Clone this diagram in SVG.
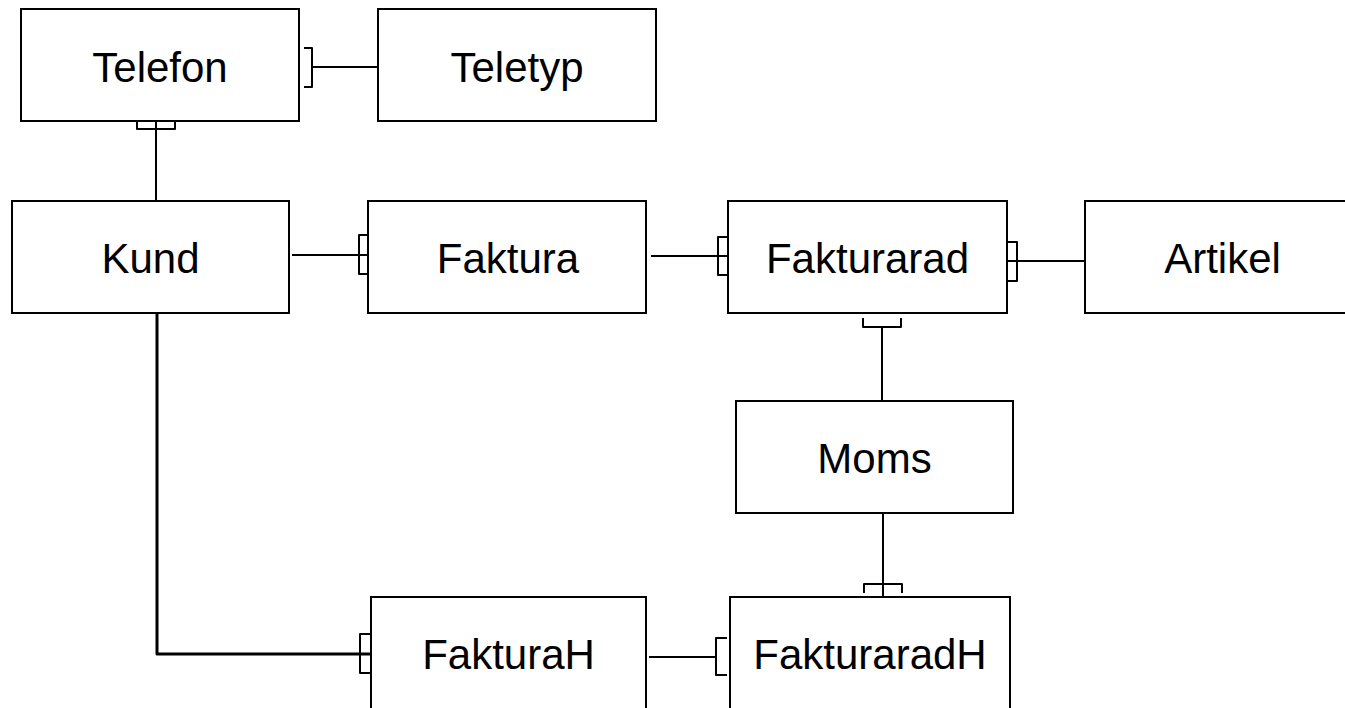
<svg xmlns="http://www.w3.org/2000/svg" width="1345" height="708" viewBox="0 0 1345 708">
<style>
.box{fill:#fff;stroke:#000;stroke-width:2}
.lbl{font-family:"Liberation Sans",Arial,sans-serif;font-size:42px;fill:#000;text-anchor:middle}
.c{fill:none;stroke:#000;stroke-width:2;stroke-linejoin:round}
.thick{stroke-width:3}
</style>
<rect width="1345" height="708" fill="#fff"/>
<g id="connectors">
  <!-- Telefon - Teletyp -->
  <path class="c" d="M312 67 H378"/>
  <path class="c" d="M304 48 H312 V87 H304"/>
  <!-- Telefon - Kund -->
  <path class="c" d="M156 121 V201"/>
  <path class="c" d="M137 121 V129 H175 V121"/>
  <!-- Kund - Faktura -->
  <path class="c" d="M292 255 H368"/>
  <path class="c" d="M367 235 H359 V274 H367"/>
  <!-- Faktura - Fakturarad -->
  <path class="c" d="M651 256 H728"/>
  <path class="c" d="M727 237 H718 V275 H727"/>
  <!-- Fakturarad - Artikel -->
  <path class="c" d="M1008 261 H1085"/>
  <path class="c" d="M1008 242 H1017 V281 H1008"/>
  <!-- Fakturarad - Moms -->
  <path class="c" d="M882 327 V401"/>
  <path class="c" d="M863 318 V327 H901 V318"/>
  <!-- Moms - FakturaradH -->
  <path class="c" d="M883 514 V597"/>
  <path class="c" d="M864 593 V584 H902 V593"/>
  <!-- Kund - FakturaH -->
  <path class="c thick" d="M157 313 V654 H371"/>
  <path class="c" d="M370 634 H360 V673 H370"/>
  <!-- FakturaH - FakturaradH -->
  <path class="c" d="M649 657 H716"/>
  <path class="c" d="M727 638 H716 V675 H727"/>
</g>
<g id="Telefon"><rect class="box" x="21" y="9" width="278" height="112"/><text class="lbl" x="160" y="82">Telefon</text></g>
<g id="Teletyp"><rect class="box" x="378" y="9" width="278" height="112"/><text class="lbl" x="517" y="82">Teletyp</text></g>
<g id="Kund"><rect class="box" x="12" y="201" width="277" height="112"/><text class="lbl" x="150.5" y="273">Kund</text></g>
<g id="Faktura"><rect class="box" x="368" y="201" width="278" height="112"/><text class="lbl" x="508" y="273">Faktura</text></g>
<g id="Fakturarad"><rect class="box" x="728" y="201" width="279" height="112"/><text class="lbl" x="867.5" y="273">Fakturarad</text></g>
<g id="Artikel"><rect class="box" x="1085" y="201" width="275" height="112"/><text class="lbl" x="1222.5" y="273">Artikel</text></g>
<g id="Moms"><rect class="box" x="736" y="401" width="277" height="112"/><text class="lbl" x="874.5" y="473">Moms</text></g>
<g id="FakturaH"><rect class="box" x="371" y="597" width="275" height="115"/><text class="lbl" x="508.5" y="669">FakturaH</text></g>
<g id="FakturaradH"><rect class="box" x="730" y="597" width="280" height="115"/><text class="lbl" x="870" y="669">FakturaradH</text></g>
</svg>
